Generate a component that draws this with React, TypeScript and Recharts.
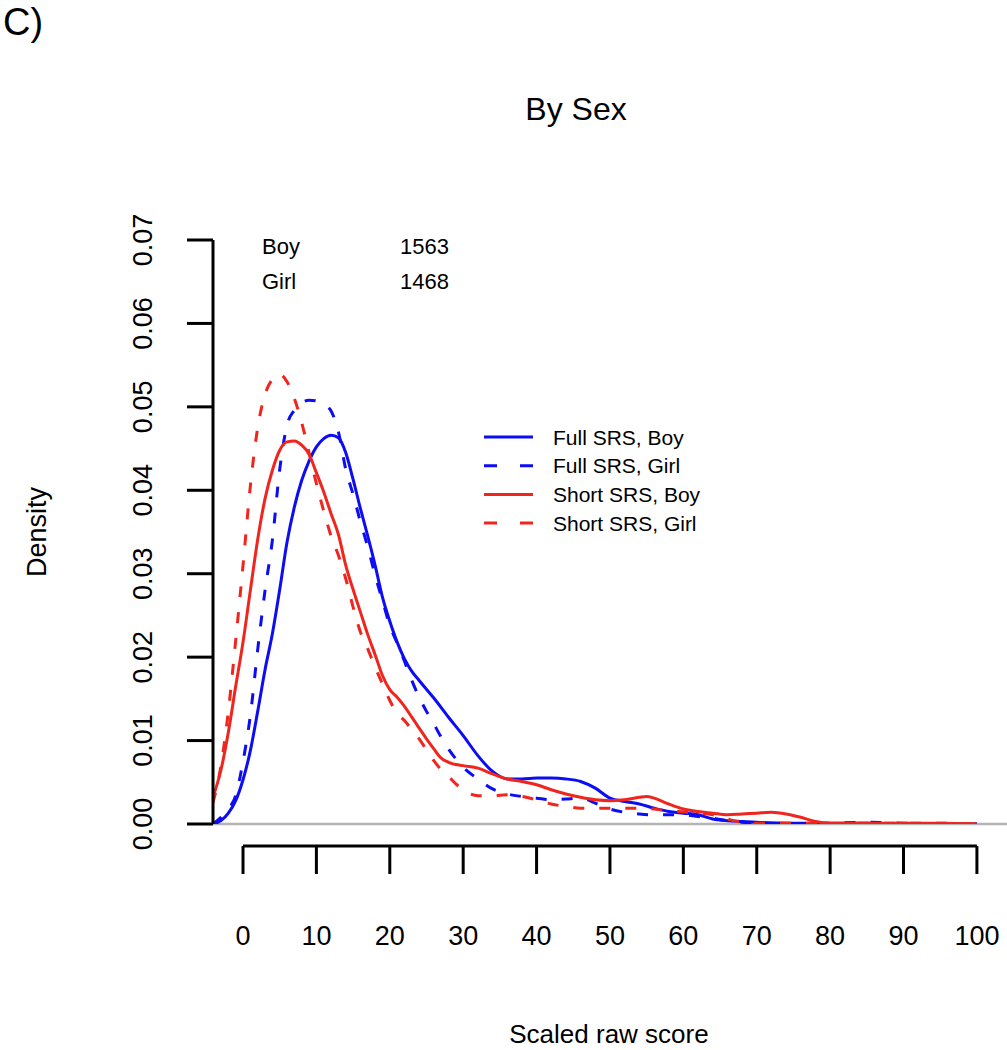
import React from 'react';
import { LineChart, Line, XAxis, YAxis, ReferenceLine, Legend } from 'recharts';

// density estimates: [score, density]
const fullBoy: number[][] = [
  [-4.1, 0], [-3, 0.0004], [-2, 0.0013], [-1, 0.0028], [0, 0.0053], [1, 0.0088], [2, 0.0135],
  [3, 0.0185], [4, 0.0228], [5, 0.0281], [6, 0.0338], [7, 0.038], [8, 0.0412], [9, 0.0435],
  [10, 0.0452], [11, 0.0462], [12, 0.0466], [13, 0.0463], [14, 0.0445], [15, 0.0413],
  [16, 0.0378], [17, 0.0345], [18, 0.031], [19, 0.0272], [20, 0.0243], [21, 0.0218],
  [22, 0.0198], [23, 0.0183], [24, 0.0172], [26, 0.0151], [28, 0.0128], [30, 0.0106],
  [32, 0.0082], [34, 0.0063], [36, 0.0054], [38, 0.0054], [40, 0.0055], [42, 0.0055],
  [44, 0.0054], [46, 0.0051], [48, 0.0043], [50, 0.0031], [52, 0.0027], [54, 0.0024],
  [56, 0.0019], [58, 0.0015], [60, 0.0013], [62, 0.0011], [64, 0.0006], [66, 0.0004],
  [68, 0.0003], [70, 0.0002], [75, 0.0001], [80, 0.0001], [85, 0.0001], [90, 0], [95, 0], [100, 0],
];

const fullGirl: number[][] = [
  [-4.1, 0], [-3, 0.0008], [-2, 0.0018], [-1, 0.0034], [0, 0.0075], [1, 0.013], [2, 0.0209],
  [3, 0.028], [4, 0.034], [5, 0.0425], [6, 0.0478], [7, 0.0496], [8, 0.0505], [9, 0.0508],
  [10, 0.0507], [11, 0.0503], [12, 0.0495], [13, 0.047], [14, 0.0425], [15, 0.0395],
  [16, 0.0362], [17, 0.0332], [18, 0.0298], [19, 0.0268], [20, 0.0238], [21, 0.0217],
  [22, 0.0195], [23, 0.0172], [24, 0.0152], [25, 0.0135], [26, 0.012], [27, 0.0104],
  [28, 0.009], [29, 0.0078], [30, 0.0068], [32, 0.0054], [34, 0.0042], [36, 0.0036],
  [38, 0.0033], [40, 0.0031], [42, 0.0029], [44, 0.003], [46, 0.0031], [48, 0.0025],
  [50, 0.0018], [52, 0.0014], [54, 0.0012], [56, 0.0011], [58, 0.0011], [60, 0.0011],
  [62, 0.0009], [64, 0.0007], [66, 0.0004], [68, 0.0002], [70, 0.0001], [75, 0], [80, 0.0001],
  [85, 0.0002], [90, 0.0001], [95, 0], [100, 0],
];

const shortBoy: number[][] = [
  [-4.1, 0.0032], [-3, 0.0065], [-2, 0.011], [-1, 0.0165], [0, 0.0218], [1, 0.028], [2, 0.0341],
  [3, 0.039], [4, 0.0424], [5, 0.0448], [6, 0.0458], [7, 0.0459], [8, 0.0454], [9, 0.0443],
  [10, 0.0421], [11, 0.0398], [12, 0.0372], [13, 0.0347], [14, 0.031], [15, 0.0281],
  [16, 0.0254], [17, 0.0227], [18, 0.0203], [19, 0.0178], [20, 0.0161], [21, 0.0152],
  [22, 0.0141], [23, 0.0128], [24, 0.0115], [25, 0.0102], [26, 0.009], [27, 0.0079],
  [28, 0.0074], [30, 0.007], [32, 0.0067], [34, 0.006], [36, 0.0054], [38, 0.0051],
  [40, 0.0047], [42, 0.0041], [44, 0.0036], [46, 0.0032], [48, 0.0029], [50, 0.0028],
  [52, 0.0029], [54, 0.0032], [55, 0.0033], [56, 0.0031], [58, 0.0024], [60, 0.0018],
  [62, 0.0015], [64, 0.0013], [66, 0.0011], [68, 0.0012], [70, 0.0013], [72, 0.0014],
  [74, 0.0012], [76, 0.0008], [78, 0.0003], [80, 0.0001], [85, 0.0001], [90, 0.0001],
  [95, 0.0001], [100, 0],
];

const shortGirl: number[][] = [
  [-4.1, 0.0025], [-3, 0.007], [-2, 0.0135], [-1, 0.022], [0, 0.031], [1, 0.0405], [2, 0.0475],
  [3, 0.0515], [4, 0.0533], [5, 0.0539], [6, 0.053], [7, 0.051], [8, 0.0481], [9, 0.0445],
  [10, 0.0408], [11, 0.0375], [12, 0.0345], [13, 0.0322], [14, 0.0294], [15, 0.026],
  [16, 0.023], [17, 0.021], [18, 0.0188], [19, 0.0168], [20, 0.0148], [21, 0.0133],
  [22, 0.0124], [23, 0.0113], [24, 0.0102], [25, 0.0089], [26, 0.0076], [27, 0.0065],
  [28, 0.0057], [29, 0.0048], [30, 0.0041], [32, 0.0034], [34, 0.0034], [36, 0.0035],
  [38, 0.0033], [40, 0.0029], [42, 0.0024], [44, 0.0021], [46, 0.0019], [50, 0.0019],
  [54, 0.0019], [58, 0.0016], [62, 0.0013], [64, 0.0011], [66, 0.0006], [68, 0.0002],
  [70, 0.0001], [75, 0.0001], [80, 0], [85, 0.0001], [90, 0.0001], [95, 0.0001], [100, 0],
];

const xTicks = [0, 10, 20, 30, 40, 50, 60, 70, 80, 90, 100];
const yTicks = [0, 0.01, 0.02, 0.03, 0.04, 0.05, 0.06, 0.07];
const groupLabels = ['Boy', 'Girl'];
const groupCounts = [1563, 1468];

const BLUE = '#0c0cf5';
const RED = '#f0261e';
const FONT = '"Liberation Sans", Arial, Helvetica, sans-serif';

const series = [
  { name: 'Full SRS, Boy', data: fullBoy, color: BLUE, dash: undefined },
  { name: 'Full SRS, Girl', data: fullGirl, color: BLUE, dash: '11 15' },
  { name: 'Short SRS, Boy', data: shortBoy, color: RED, dash: undefined },
  { name: 'Short SRS, Girl', data: shortGirl, color: RED, dash: '11 15' },
];

const toPoints = (arr: number[][]) => arr.map(([x, y]) => ({ x, y }));

// x axis is drawn offset below the plot, R style
const AXIS_Y = 846;
const XTick = (props: any) => {
  const { x, payload } = props;
  return (
    <g>
      <line x1={x} x2={x} y1={AXIS_Y} y2={AXIS_Y + 28} stroke="#000" strokeWidth={3} />
      <text x={x} y={945} textAnchor="middle" fontSize={27} fontFamily={FONT} fill="#000">
        {payload.value}
      </text>
    </g>
  );
};

const YTick = (props: any) => {
  const { y, payload } = props;
  const lx = 152;
  return (
    <text
      x={lx}
      y={y}
      transform={`rotate(-90, ${lx}, ${y})`}
      textAnchor="middle"
      fontSize={27}
      fontFamily={FONT}
      fill="#000"
    >
      {payload.value.toFixed(2)}
    </text>
  );
};

const renderLegend = () => (
  <svg width={260} height={120} style={{ display: 'block' }}>
    {series.map((s, i) => {
      const cy = 14 + i * 28.7;
      return (
        <g key={s.name}>
          <line x1={0} x2={49} y1={cy} y2={cy} stroke={s.color} strokeWidth={3}
            strokeDasharray={s.dash ? '13 23' : undefined} />
          <text x={69} y={cy} dominantBaseline="central" fontSize={21} fontFamily={FONT} fill="#000">
            {s.name}
          </text>
        </g>
      );
    })}
  </svg>
);

export default function App() {
  return (
    <div style={{ position: 'absolute', left: 0, top: 0, width: 1007, height: 1050, background: '#fff' }}>
      <LineChart width={1007} height={1050} margin={{ top: 240, right: 0, bottom: 196, left: 133 }}>
        <XAxis
          dataKey="x"
          type="number"
          domain={[-4.09, 104.1]}
          allowDataOverflow
          ticks={xTicks}
          axisLine={false}
          tickLine={false}
          height={30}
          tick={<XTick />}
        />
        <YAxis
          type="number"
          domain={[0, 0.07]}
          allowDataOverflow
          ticks={yTicks}
          width={80}
          tickSize={26}
          axisLine={{ stroke: '#000', strokeWidth: 3 }}
          tickLine={{ stroke: '#000', strokeWidth: 3 }}
          tick={<YTick />}
        />
        <ReferenceLine y={0} stroke="#b4b4b4" strokeWidth={2.5} />
        <ReferenceLine
          segment={[{ x: 0, y: -0.00264 }, { x: 100, y: -0.00264 }]}
          ifOverflow="visible"
          stroke="#000"
          strokeWidth={3}
        />
        {series.map((s) => (
          <Line
            key={s.name}
            data={toPoints(s.data)}
            dataKey="y"
            name={s.name}
            type="monotone"
            stroke={s.color}
            strokeWidth={3}
            strokeDasharray={s.dash}
            dot={false}
            activeDot={false}
            isAnimationActive={false}
          />
        ))}
        <Legend
          layout="vertical"
          align="center"
          verticalAlign="middle"
          content={renderLegend}
          wrapperStyle={{ position: 'absolute', left: 484, top: 423, width: 260, height: 120 }}
        />
      </LineChart>
      <svg
        width={1007}
        height={1050}
        style={{ position: 'absolute', left: 0, top: 0, pointerEvents: 'none' }}
        fontFamily={FONT}
      >
        <text x={3} y={35} fontSize={38} fill="#000">C)</text>
        <text x={576} y={120} fontSize={32} textAnchor="middle" fill="#000">By Sex</text>
        <text x={46} y={532} fontSize={27} textAnchor="middle" transform="rotate(-90, 46, 532)" fill="#000">
          Density
        </text>
        <text x={609} y={1043} fontSize={26} textAnchor="middle" fill="#000">Scaled raw score</text>
        {groupLabels.map((g, i) => (
          <g key={g}>
            <text x={262} y={254 + i * 35} fontSize={22} fill="#000">{g}</text>
            <text x={400} y={254 + i * 35} fontSize={22} fill="#000">{groupCounts[i]}</text>
          </g>
        ))}
      </svg>
    </div>
  );
}
